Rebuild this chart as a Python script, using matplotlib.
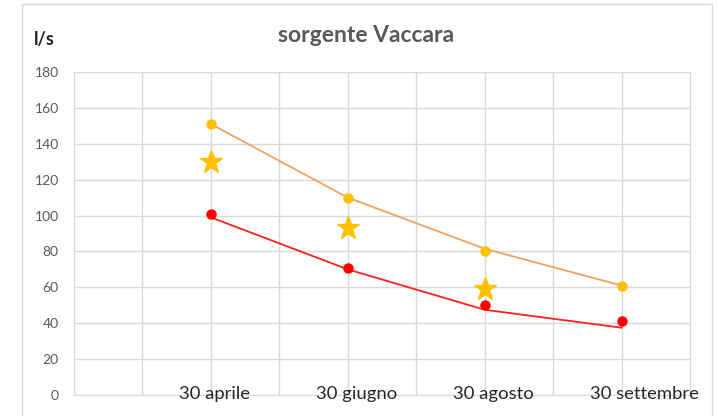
import matplotlib.pyplot as plt
from matplotlib.patches import Rectangle

# Dati
posizioni = [2, 4, 6, 8]
date = ["30 aprile", "30 giugno", "30 agosto", "30 settembre"]
portata_max = [151, 110, 80, 61]
linea_max = [151, 110, 81.5, 61]
portata_min = [101, 71, 50, 41]
linea_min = [99, 70, 47.5, 37.5]
pos_stelle = [2, 4, 6]
portata_stelle = [130, 93, 59]
y_ticks = list(range(0, 181, 20))

plt.rcParams['font.family'] = ['Lato', 'DejaVu Sans']

fig = plt.figure(figsize=(7.18, 4.16), dpi=100)
fig.patches.append(Rectangle((22/718, -0.05), (712-22)/718, 1.05 - 4/416,
                             transform=fig.transFigure, fill=False,
                             edgecolor="#D9D9D9", linewidth=1))
ax = fig.add_axes([74/718, 1-395/416, (690-74)/718, (395-72)/416])

ax.plot(posizioni, linea_max, color="#F4A060", linewidth=1.3, zorder=3)
ax.plot(posizioni, portata_max, linestyle="none", marker="o", markersize=6.5,
        color="#FFC000", zorder=4)
ax.plot(posizioni, linea_min, color="#FF2020", linewidth=1.3, zorder=3)
ax.plot(posizioni, portata_min, linestyle="none", marker="o", markersize=6.5,
        color="#FF0000", zorder=4)
ax.plot(pos_stelle, portata_stelle, linestyle="none", marker="*", markersize=17,
        color="#FFC000", zorder=5)

ax.set_xlim(0, 9)
ax.set_ylim(0, 180)
ax.set_xticks(range(0, 10))
ax.set_xticklabels([])
ax.set_yticks(y_ticks)
ax.tick_params(length=0, labelsize=10, labelcolor="#595959", pad=11)
ax.grid(color="#D9D9D9", linewidth=1)
ax.set_axisbelow(True)
for s in ax.spines.values():
    s.set_color("#D9D9D9")

for x, t in zip(posizioni, date):
    ax.text(x - 0.46, 5, t, ha="left", va="top", fontsize=13.3,
            color="#262626", transform=ax.transData, clip_on=False)

fig.text(366/718, 1-36/416, "sorgente Vaccara", ha="center", va="center",
         fontsize=16.5, fontweight="bold", color="#595959")
fig.text(34/718, 1-40/416, "l/s", ha="left", va="center",
         fontsize=13, fontweight="bold", color="#262626")

fig.savefig("out.png", dpi=100)
